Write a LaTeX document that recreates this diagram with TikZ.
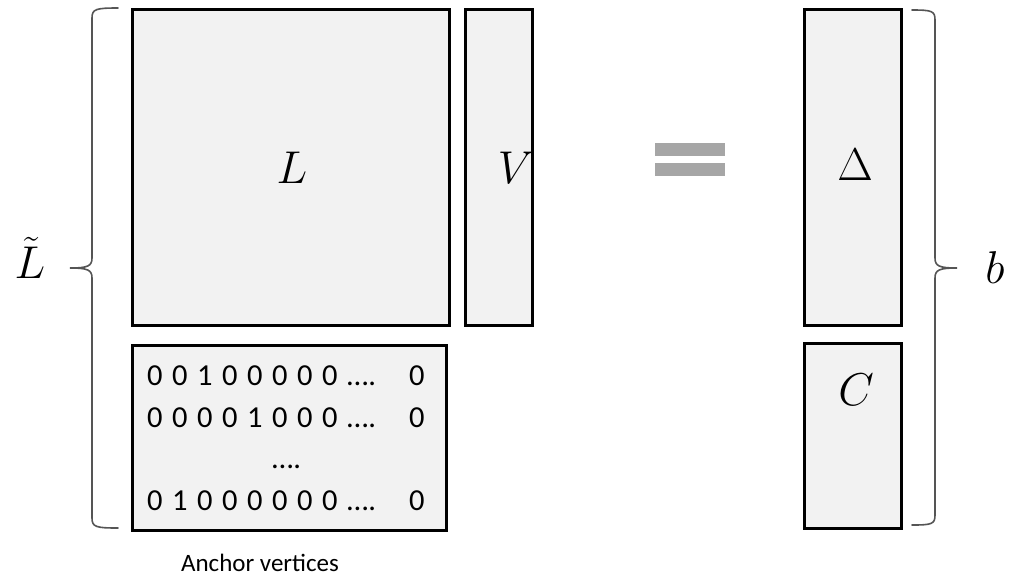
\RequirePackage{fix-cm}
\documentclass[tikz,border=0pt]{standalone}
\usepackage{fontspec}
\newfontfamily\calib{Carlito}
\definecolor{boxfill}{HTML}{F2F2F2}
\definecolor{eqgray}{HTML}{A6A6A6}
\definecolor{bracegray}{HTML}{555555}
\newcommand{\dg}[1]{\makebox[25pt][l]{#1}}
\begin{document}
\begin{tikzpicture}[x=1pt,y=-1pt,
  mbox/.style={draw=black,line width=3pt,fill=boxfill,inner sep=0pt,anchor=north west},
  bigmath/.style={inner sep=0pt,font=\fontsize{46}{50}\selectfont},
  rowtxt/.style={inner sep=0pt,anchor=base west,font=\calib\fontsize{30.5}{33}\selectfont},
  bracestyle/.style={draw=bracegray,line width=1.6pt,line cap=round}]
\useasboundingbox (0,0) rectangle (1024,579);
% boxes
\node[mbox,minimum width=317pt,minimum height=316pt] (Lbox) at (131,8) {};
\node[mbox,minimum width=67pt,minimum height=316pt] (Vbox) at (464,8) {};
\node[mbox,minimum width=314pt,minimum height=185pt] (Abox) at (131,344) {};
\node[mbox,minimum width=97pt,minimum height=316pt] (Dbox) at (803,8) {};
\node[mbox,minimum width=97pt,minimum height=185pt] (Cbox) at (803,342) {};
% labels
\node[bigmath] (Llab) at (292,168) {$L$};
\node[bigmath] (Vlab) at (516,168) {$V$};
\node[bigmath] (Dlab) at (855,165) {$\Delta$};
\node[bigmath] (Clab) at (856,390) {$C$};
\node[bigmath] (Ltl) at (30,258) {$\tilde{L}$};
\node[bigmath] (blab) at (995,268) {$b$};
% rows
\node[rowtxt] (r1) at (147,385) {\dg{0}\dg{0}\dg{1}\dg{0}\dg{0}\dg{0}\dg{0}\dg{0}\makebox[62pt][l]{\dots.}0};
\node[rowtxt] (r2) at (147,427) {\dg{0}\dg{0}\dg{0}\dg{0}\dg{1}\dg{0}\dg{0}\dg{0}\makebox[62pt][l]{\dots.}0};
\node[rowtxt] (r3) at (272,468) {\dots.};
\node[rowtxt] (r4) at (147,510) {\dg{0}\dg{1}\dg{0}\dg{0}\dg{0}\dg{0}\dg{0}\dg{0}\makebox[62pt][l]{\dots.}0};
\node[inner sep=0pt,font=\calib\fontsize{25}{28}\selectfont] (anc) at (260,563) {Anchor vertices};
% equals sign
\fill[eqgray] (655,143) rectangle (725,156);
\fill[eqgray] (655,163) rectangle (725,176);
% braces
\draw[bracestyle] (118,8) .. controls (96,8) and (92,9) .. (92,18) -- (92,258)
  .. controls (92,266) and (88,268) .. (70,268)
  .. controls (88,268) and (92,270) .. (92,278) -- (92,518)
  .. controls (92,527) and (96,528) .. (118,528);
\draw[bracestyle] (912,10) .. controls (932,10) and (935,11) .. (935,20) -- (935,258)
  .. controls (935,266) and (939,268) .. (957,268)
  .. controls (939,268) and (935,270) .. (935,278) -- (935,515)
  .. controls (935,524) and (932,525) .. (912,525);
\end{tikzpicture}
\end{document}
